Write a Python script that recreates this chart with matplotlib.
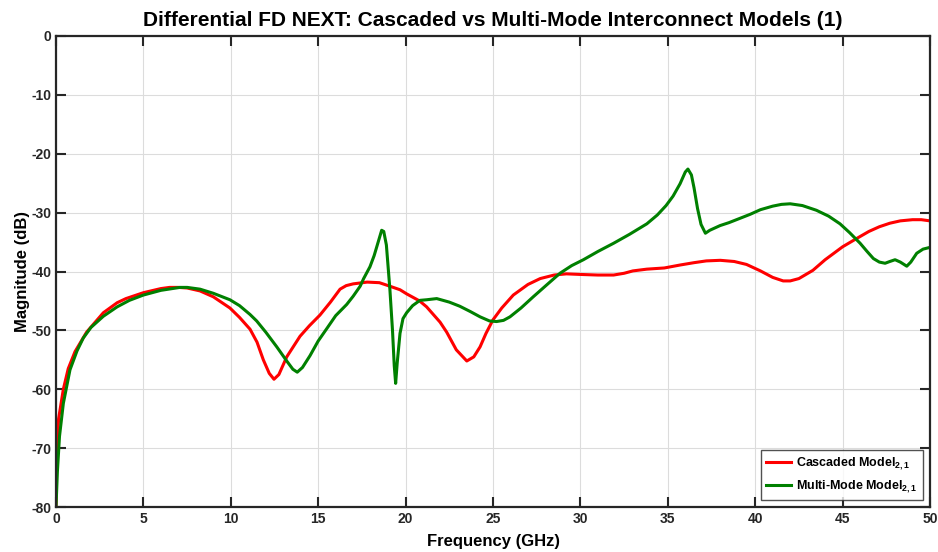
import matplotlib
matplotlib.use("Agg")
import matplotlib.pyplot as plt

plt.rcParams['font.family'] = ['Liberation Sans', 'DejaVu Sans']
plt.rcParams['font.weight'] = 'bold'
plt.rcParams['axes.unicode_minus'] = False
plt.rcParams['mathtext.fontset'] = 'custom'
plt.rcParams['mathtext.rm'] = 'Liberation Sans:bold'
plt.rcParams['mathtext.bf'] = 'Liberation Sans:bold'

# Cascaded model NEXT (GHz, dB)
casc_f = [0.0, 0.05, 0.15, 0.42, 0.7, 1.09, 1.75, 2.71, 3.5, 4.0, 5.0, 6.0, 6.5, 7.0,
          7.5, 8.24, 9.0, 9.95, 10.5, 11.1, 11.5, 11.86, 12.2, 12.47, 12.75, 13.2,
          13.96, 14.5, 15.1, 15.7, 16.25, 16.6, 17.0, 17.8, 18.5, 19.1, 19.68, 20.06,
          20.8, 21.2, 21.97, 22.35, 22.9, 23.5, 23.9, 24.26, 24.6, 25.0, 25.5, 26.16,
          27.0, 27.7, 28.5, 29.2, 30.0, 31.0, 31.9, 32.5, 33.0, 33.8, 34.8, 35.7, 36.5,
          37.2, 38.0, 38.8, 39.5, 40.3, 41.0, 41.6, 42.0, 42.5, 43.3, 44.0, 45.0, 45.8,
          46.5, 47.1, 47.7, 48.3, 49.0, 49.5, 50.0]
casc_db = [-80, -70, -65, -60, -56.5, -53.6, -50.3, -47.0, -45.3, -44.6, -43.6, -42.9,
           -42.7, -42.7, -42.8, -43.3, -44.3, -46.2, -47.8, -49.8, -52.0, -55.0, -57.3,
           -58.3, -57.5, -54.5, -51.0, -49.2, -47.4, -45.2, -43.0, -42.4, -42.1, -41.8,
           -41.9, -42.5, -43.1, -43.8, -45.0, -46.0, -48.6, -50.3, -53.3, -55.2, -54.5,
           -52.8, -50.5, -48.2, -46.2, -44.0, -42.2, -41.2, -40.6, -40.4, -40.5, -40.6,
           -40.6, -40.3, -39.9, -39.6, -39.4, -38.9, -38.5, -38.2, -38.1, -38.3, -38.8,
           -39.9, -41.0, -41.6, -41.6, -41.2, -39.8, -38.0, -35.8, -34.4, -33.2, -32.4,
           -31.8, -31.4, -31.2, -31.2, -31.4]

# Multi-mode model NEXT (GHz, dB)
mm_f = [0.0, 0.08, 0.2, 0.42, 0.8, 1.2, 1.56, 2.0, 2.71, 3.5, 4.2, 5.0, 6.0, 7.09, 7.5,
        8.24, 9.0, 9.95, 10.5, 11.1, 11.48, 12.0, 12.63, 13.2, 13.55, 13.8, 14.1, 14.53,
        15.0, 15.49, 16.0, 16.63, 17.0, 17.4, 17.6, 17.96, 18.2, 18.45, 18.63, 18.75,
        18.9, 19.1, 19.25, 19.35, 19.43, 19.52, 19.68, 19.85, 20.06, 20.4, 20.82, 21.2,
        21.78, 22.5, 23.1, 23.7, 24.26, 24.8, 25.2, 25.6, 25.97, 26.6, 27.3, 28.1,
        28.83, 29.5, 30.17, 31.0, 31.9, 32.8, 33.8, 34.4, 34.9, 35.3, 35.7, 36.0, 36.15,
        36.35, 36.5, 36.7, 36.9, 37.15, 37.4, 37.99, 38.5, 39.1, 39.7, 40.3, 41.0, 41.5,
        42.0, 42.7, 43.5, 44.2, 44.85, 45.4, 46.0, 46.4, 46.76, 47.1, 47.43, 47.7, 48.0,
        48.3, 48.67, 48.9, 49.24, 49.6, 50.0]
mm_db = [-80, -74, -68, -62.4, -56.7, -53.5, -51.3, -49.5, -47.6, -46.0, -44.9, -44.0,
         -43.2, -42.7, -42.7, -43.0, -43.7, -44.8, -45.8, -47.3, -48.4, -50.3, -52.8,
         -55.2, -56.6, -57.1, -56.3, -54.3, -51.8, -49.7, -47.5, -45.6, -44.2, -42.5,
         -41.2, -39.2, -37.3, -34.8, -33.0, -33.2, -35.5, -43.0, -50.0, -56.0, -59.0,
         -55.5, -50.5, -48.0, -47.0, -45.8, -44.9, -44.8, -44.6, -45.2, -45.9, -46.8,
         -47.7, -48.4, -48.5, -48.3, -47.7, -46.2, -44.3, -42.2, -40.3, -39.0, -38.0,
         -36.6, -35.2, -33.7, -31.9, -30.4, -28.8, -27.2, -25.1, -23.1, -22.6, -23.6,
         -25.8, -29.3, -32.0, -33.5, -33.0, -32.2, -31.7, -31.0, -30.3, -29.5, -28.9,
         -28.6, -28.5, -28.8, -29.6, -30.6, -31.9, -33.4, -35.2, -36.6, -37.8, -38.4,
         -38.6, -38.3, -38.0, -38.4, -39.1, -38.4, -36.9, -36.2, -35.9]

fig = plt.figure(figsize=(9.38, 5.52), dpi=100)
ax = fig.add_axes([0.0597, 0.0815, 0.9318, 0.8533])

ax.plot(casc_f, casc_db, color='#ff0000', linewidth=2.2, solid_joinstyle='round',
        label=r'Cascaded Model$_{\mathbf{2,1}}$')
ax.plot(mm_f, mm_db, color='#008000', linewidth=2.2, solid_joinstyle='round',
        label=r'Multi-Mode Model$_{\mathbf{2,1}}$')

ax.set_xlim(0, 50)
ax.set_ylim(-80, 0)
ax.set_xticks(range(0, 51, 5))
ax.set_yticks(range(-80, 1, 10))
ax.grid(True, color='#dcdcdc', linewidth=0.8)
ax.set_axisbelow(True)

ax.tick_params(direction='in', length=7, width=1.5, top=True, right=True,
               labelsize=10, colors='#262626')
for lbl in ax.get_xticklabels() + ax.get_yticklabels():
    lbl.set_fontweight('bold')
for sp in ax.spines.values():
    sp.set_linewidth(1.6)
    sp.set_color('#262626')

ax.set_xlabel('Frequency (GHz)', fontsize=12, fontweight='bold', labelpad=6)
ax.set_ylabel('Magnitude (dB)', fontsize=12, fontweight='bold', labelpad=1)
ax.set_title('Differential FD NEXT: Cascaded vs Multi-Mode Interconnect Models (1)',
             fontsize=15, fontweight='bold', pad=7)

leg = ax.legend(loc='lower right', fontsize=9, frameon=True, fancybox=False,
                edgecolor='#262626', handlelength=2.0, handletextpad=0.4,
                borderaxespad=0.6, labelspacing=0.5, borderpad=0.4)
leg.get_frame().set_linewidth(1.0)
for t in leg.get_texts():
    t.set_fontweight('bold')

fig.savefig('out.png', dpi=100)
